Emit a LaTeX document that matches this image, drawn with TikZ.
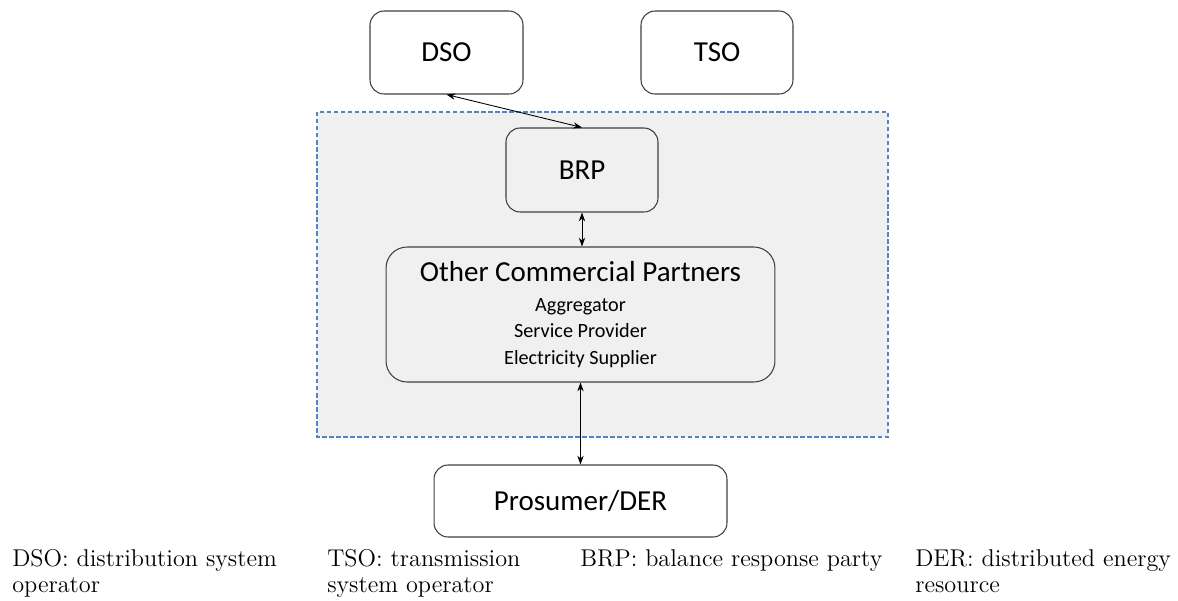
\documentclass[tikz,border=0pt]{standalone}
\usepackage{fontspec}
\newfontfamily\boxfont{Carlito}
\usetikzlibrary{arrows.meta}
\definecolor{areagray}{RGB}{240,240,240}
\definecolor{areablue}{RGB}{84,130,198}
\definecolor{boxline}{RGB}{64,64,64}

\begin{document}
\begin{tikzpicture}[x = .02cm, y = -.02cm,
    party/.style = {draw = boxline, line width = .6pt, rounded corners = 8pt,
                    inner sep = 0pt, align = center,
                    font = \boxfont\fontsize{16.5}{20}\selectfont},
    link/.style = {{Stealth[length = 5pt, width = 3.6pt]}-{Stealth[length = 5pt, width = 3.6pt]},
                   line width = .5pt},
    note/.style = {anchor = base west, align = left, inner sep = 0pt,
                   font = \fontsize{13.8}{14.7}\selectfont}]
  \useasboundingbox (0, 0) rectangle (1178, 600);
  % market area
  \draw[fill = areagray, draw = areablue, line width = .6pt,
        dash pattern = on 2.5pt off 1.5pt] (317, 112) rectangle (888, 437);

  \node[party, fill = white, minimum width = 3.06cm, minimum height = 1.66cm]
    (dso) at (446.5, 52.5) {DSO};
  \node[party, fill = white, minimum width = 3.04cm, minimum height = 1.66cm]
    (tso) at (717, 52.5) {TSO};
  \node[party, fill = areagray, minimum width = 3.04cm, minimum height = 1.68cm]
    (brp) at (582, 170) {BRP};
  \node[party, fill = areagray, rounded corners = 12pt,
        minimum width = 7.78cm, minimum height = 2.7cm,
        font = \boxfont\fontsize{11.5}{15}\selectfont]
    (ocp) at (580.5, 314.5)
    {{\fontsize{16.5}{20}\selectfont Other Commercial Partners}\\[2pt]
     Aggregator\\ Service Provider\\ Electricity Supplier};
  \node[party, fill = white, minimum width = 5.86cm, minimum height = 1.44cm]
    (pros) at (580.5, 501) {Prosumer/DER};

  \draw[link] (dso.south) -- (brp.north);
  \draw[link] (brp.south) -- (brp.south |- ocp.north);
  \draw[link] (ocp.south) -- (ocp.south |- pros.north);

  % abbreviations (base = last line)
  \node[note] (dsonote) at (12, 592) {DSO: distribution system\\operator};
  \node[note] (tsonote) at (327, 592) {TSO: transmission\\system operator};
  \node[note] (brpnote) at (580, 566) {BRP: balance response party};
  \node[note] (dernote) at (915, 592) {DER: distributed energy\\resource};
\end{tikzpicture}
\end{document}
